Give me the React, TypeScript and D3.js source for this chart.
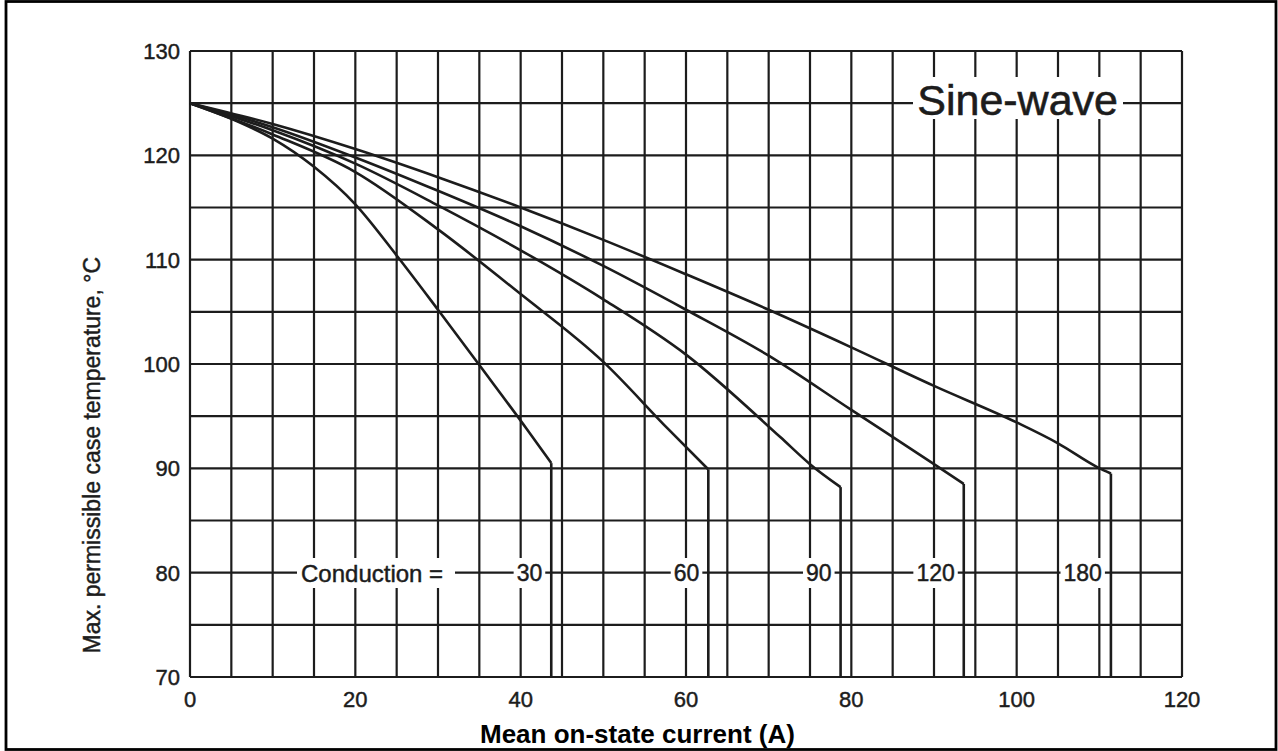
import React from "react";
import * as d3 from "d3";

// ---- data ----
const conductionLabels = ["30", "60", "90", "120", "180"];

const current30 = [0, 5, 10, 15, 20, 25, 30, 35, 40.8, 43.7];
const temp30 = [125, 123.5, 121.6, 118.9, 115.3, 110.4, 105.2, 99.9, 93.7, 90.5];

const current60 = [0, 10, 20, 30, 40, 50, 57.8, 62.7];
const temp60 = [125, 122.0, 118.4, 112.9, 106.7, 100.2, 93.8, 89.9];

const current90 = [0, 10, 20, 30, 40, 50, 60, 71.4, 75, 78.7];
const temp90 = [125, 122.4, 119.2, 115.2, 110.9, 106.2, 100.9, 93.0, 90.4, 88.2];

const current120 = [0, 10, 20, 30, 40, 50, 60, 70, 80, 90, 93.6];
const temp120 = [125, 122.7, 119.8, 116.6, 113.2, 109.4, 105.2, 100.8, 95.6, 90.4, 88.5];

const current180 = [0, 10, 20, 30, 40, 50, 60, 70, 80, 90, 100, 105, 109.8, 111.4];
const temp180 = [125, 123.0, 120.6, 117.9, 115.0, 111.9, 108.6, 105.2, 101.6, 97.9, 94.4, 92.4, 90.1, 89.5];

const seriesCurrents = [current30, current60, current90, current120, current180];
const seriesTemps = [temp30, temp60, temp90, temp120, temp180];

const xTickValues = [0, 20, 40, 60, 80, 100, 120];
const yTickValues = [70, 80, 90, 100, 110, 120, 130];

const xDomain = [0, 120];
const yDomain = [70, 130];
const gridStep = 5;
const labelTemp = 80;
const startTemp = 125;

const xTitle = "Mean on-state current (A)";
const yTitle = "Max. permissible case temperature, \u00B0C";
const conductionTitle = "Conduction =";
const waveTitle = "Sine-wave";

export default function App() {
  const W = 1278;
  const H = 751;
  const x = d3.scaleLinear().domain(xDomain).range([190, 1182]);
  const y = d3.scaleLinear().domain(yDomain).range([677, 51]);

  const ink = "#1c1c1c";
  const font = "'Liberation Sans', Arial, Helvetica, sans-serif";

  const gridX = d3.range(xDomain[0], xDomain[1] + 0.01, gridStep);
  const gridY = d3.range(yDomain[0], yDomain[1] + 0.01, gridStep);

  const line = d3
    .line<[number, number]>()
    .x((d) => x(d[0]))
    .y((d) => y(d[1]))
    .curve(d3.curveMonotoneX);
  const straight = d3
    .line<[number, number]>()
    .x((d) => x(d[0]))
    .y((d) => y(d[1]));

  const series = seriesCurrents.map((cs, i) => {
    const pts: [number, number][] = cs.map((c, j) => [c, seriesTemps[i][j]]);
    const knee = pts[pts.length - 1];
    return { label: conductionLabels[i], pts, knee };
  });

  const yl = y(labelTemp);
  const labelFs = 23;
  const textStroke = { stroke: ink, strokeWidth: 0.45 };

  return (
    <svg
      width={W}
      height={H}
      style={{ position: "absolute", left: 0, top: 0, background: "#fff" }}
      fontFamily={font}
    >
      <rect x={0} y={0} width={W} height={H} fill="#fff" />
      {/* outer border */}
      <rect x={6} y={1.5} width={1270} height={748} fill="none" stroke="#000" strokeWidth={2.8} />

      {/* grid */}
      <g stroke={ink} strokeWidth={2.2}>
        {gridX.map((v) => (
          <line key={"gx" + v} x1={x(v)} x2={x(v)} y1={y(yDomain[0])} y2={y(yDomain[1])} />
        ))}
        {gridY.map((v) => (
          <line key={"gy" + v} x1={x(xDomain[0])} x2={x(xDomain[1])} y1={y(v)} y2={y(v)} />
        ))}
      </g>

      {/* white boxes for in-plot labels */}
      <rect x={297} y={558} width={158} height={30} fill="#fff" />
      {series.map((s) => {
        const xe = x(s.knee[0]) - 9;
        const w = s.label.length * 12.8 + 6;
        return <rect key={"bx" + s.label} x={xe - w + 3} y={558} width={w} height={30} fill="#fff" />;
      })}
      <rect x={913} y={77} width={210} height={42} fill="#fff" />

      {/* curves */}
      <g fill="none" stroke={ink} strokeWidth={2.6} strokeLinejoin="round">
        {series.map((s) => (
          <g key={"c" + s.label}>
            <path d={line(s.pts) || ""} />
            <path d={straight([s.knee, [s.knee[0], yDomain[0]]]) || ""} />
          </g>
        ))}
      </g>

      {/* in-plot labels */}
      <text x={301} y={yl + 9} fontSize={24} fill={ink} {...textStroke}>
        {conductionTitle}
      </text>
      {series.map((s) => (
        <text
          key={"l" + s.label}
          x={x(s.knee[0]) - 9}
          y={yl + 8.5}
          fontSize={labelFs}
          textAnchor="end"
          fill={ink}
          {...textStroke}
        >
          {s.label}
        </text>
      ))}
      <text x={1118} y={y(startTemp) + 12} fontSize={43} textAnchor="end" fill={ink} stroke={ink} strokeWidth={0.6}>
        {waveTitle}
      </text>

      {/* y tick labels */}
      {yTickValues.map((v) => (
        <text key={"yt" + v} x={180} y={y(v) + 8} fontSize={22} textAnchor="end" fill={ink} {...textStroke}>
          {v}
        </text>
      ))}
      {/* x tick labels */}
      {xTickValues.map((v) => (
        <text key={"xt" + v} x={x(v)} y={707} fontSize={22} textAnchor="middle" fill={ink} {...textStroke}>
          {v}
        </text>
      ))}

      {/* axis titles */}
      <text x={480} y={743} fontSize={26} fontWeight="bold" fill="#000">
        {xTitle}
      </text>
      <text
        transform={`translate(100, 257) rotate(-90)`}
        fontSize={23}
        textAnchor="end"
        fill={ink}
        {...textStroke}
      >
        {yTitle}
      </text>
    </svg>
  );
}
